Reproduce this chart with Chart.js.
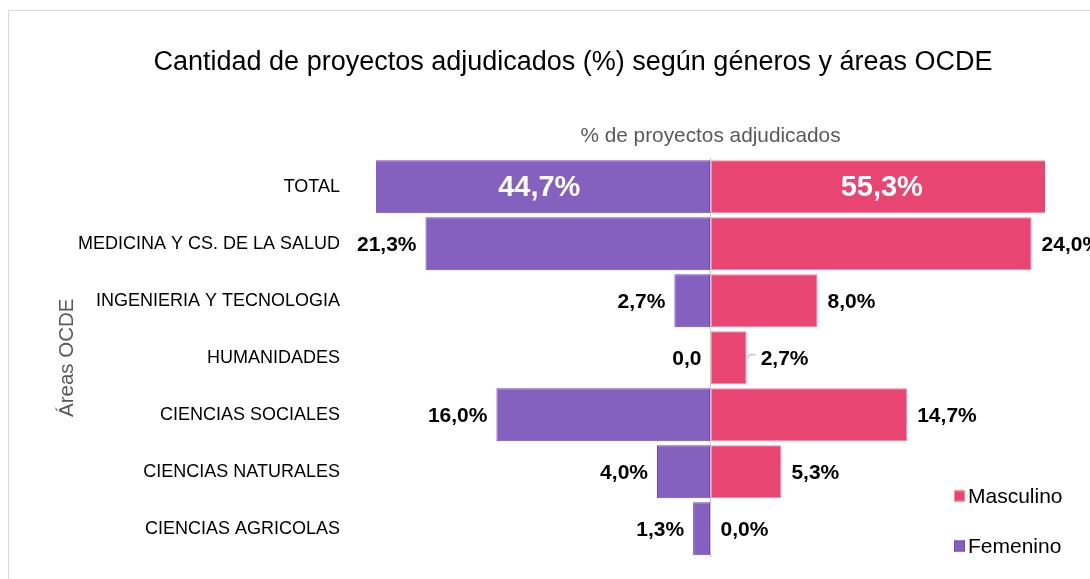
<!DOCTYPE html>
<html>
<head>
<meta charset="utf-8">
<script src="https://cdn.jsdelivr.net/npm/chart.js@4"></script>
<style>
html, body { margin: 0; padding: 0; background: #fff; overflow: hidden; }
#box { position: absolute; left: 8px; top: 10px; width: 1200px; height: 700px; border: 1px solid #d9d9d9; }
#myChart { position: absolute; left: 0; top: 0; }
</style>
</head>
<body>
<div id="box"><canvas id="myChart" width="1128" height="593"></canvas></div>
<script>
// categories (top to bottom)
var areas = ["TOTAL", "MEDICINA Y CS. DE LA SALUD", "INGENIERIA Y TECNOLOGIA", "HUMANIDADES",
             "CIENCIAS SOCIALES", "CIENCIAS NATURALES", "CIENCIAS AGRICOLAS"];
// % of projects per gender
var femenino = [44.7, 21.3, 2.7, 0.0, 16.0, 4.0, 1.3];
var masculino = [55.3, 24.0, 8.0, 2.7, 14.7, 5.3, 0.0];
// label texts as shown on the chart
var femLabels = ["44,7%", "21,3%", "2,7%", "0,0", "16,0%", "4,0%", "1,3%"];
var masLabels = ["55,3%", "24,0%", "8,0%", "2,7%", "14,7%", "5,3%", "0,0%"];
var masLeader = [false, false, false, true, false, false, false];

var FONT = "'Liberation Sans', Arial, sans-serif";
var ctx = document.getElementById("myChart");

// value labels at the bar ends (white and centered inside for the TOTAL row)
var valueLabels = {
    id: 'valueLabels',
    afterDatasetsDraw: function (chart) {
        var c = chart.ctx, area = chart.chartArea, xs = chart.scales.x;
        var texts = [femLabels, masLabels];
        chart.data.datasets.forEach(function (ds, i) {
            var meta = chart.getDatasetMeta(i);
            meta.data.forEach(function (bar, j) {
                var t = texts[i][j];
                var neg = i === 0;
                var x = xs.getPixelForValue(ds.data[j]);
                var base = xs.getPixelForValue(0);
                c.save();
                c.textBaseline = 'middle';
                if (j === 0) {
                    var end = Math.max(area.left, Math.min(area.right, x));
                    var shift = neg ? -4 : 4;
                    c.fillStyle = '#ffffff';
                    c.font = 'bold 29px ' + FONT;
                    c.textAlign = 'center';
                    c.fillText(t, (end + base) / 2 + shift, bar.y + 1);
                } else {
                    c.fillStyle = '#000000';
                    c.font = 'bold 21px ' + FONT;
                    if (neg) {
                        c.textAlign = 'right';
                        c.fillText(t, x - 9, bar.y + 1);
                    } else if (masLeader[j]) {
                        c.strokeStyle = '#a6a6a6';
                        c.lineWidth = 1;
                        c.beginPath();
                        c.moveTo(x + 1, bar.y);
                        c.lineTo(x + 3, bar.y - 3);
                        c.lineTo(x + 9, bar.y - 3);
                        c.stroke();
                        c.textAlign = 'left';
                        c.fillText(t, x + 14, bar.y + 1);
                    } else {
                        c.textAlign = 'left';
                        c.fillText(t, x + 10, bar.y + 1);
                    }
                }
                c.restore();
            });
        });
    }
};

// legend drawn inside the plot, bottom right, Masculino first
var sideLegend = {
    id: 'sideLegend',
    afterDraw: function (chart) {
        var c = chart.ctx;
        var items = chart.data.datasets.slice().reverse();
        items.forEach(function (ds, k) {
            var y = 485 + k * 50;
            c.save();
            c.fillStyle = ds.backgroundColor;
            c.strokeStyle = ds.borderColor;
            c.lineWidth = 1;
            c.fillRect(945, y - 5.5, 11, 11);
            c.strokeRect(945.5, y - 5, 10, 10);
            c.fillStyle = '#000000';
            c.font = '21px ' + FONT;
            c.textAlign = 'left';
            c.textBaseline = 'middle';
            c.fillText(ds.label, 959, y + 1);
            c.restore();
        });
    }
};

var myChart = new Chart(ctx, {
    type: 'bar',
    data: {
        labels: areas,
        datasets: [
            {
                label: "Femenino",
                data: femenino.map(function (v) { return -v; }),
                backgroundColor: "#8461BF",
                borderColor: "#7346B3",
                borderWidth: 1,
                borderSkipped: false,
                clip: 0
            },
            {
                label: "Masculino",
                data: masculino,
                backgroundColor: "#E84572",
                borderColor: "#F08CA8",
                borderWidth: 1,
                borderSkipped: false,
                clip: 0
            }
        ]
    },
    options: {
        indexAxis: 'y',
        responsive: false,
        animation: false,
        layout: { padding: { left: 0, right: 0, top: 0, bottom: 29 } },
        datasets: { bar: { categoryPercentage: 1, barPercentage: 0.93 } },
        plugins: {
            legend: { display: false },
            tooltip: { enabled: false },
            title: {
                display: true,
                text: "Cantidad de proyectos adjudicados (%) según géneros y áreas OCDE",
                color: '#000000',
                font: { family: FONT, size: 27, weight: 'normal' },
                padding: { top: 35, bottom: 10 }
            }
        },
        scales: {
            x: {
                position: 'top',
                stacked: false,
                min: -25,
                max: 25,
                ticks: { display: false, stepSize: 5 },
                grid: {
                    drawTicks: false,
                    lineWidth: 1,
                    color: function (c) { return c.tick && c.tick.value === 0 ? '#c8c8c8' : 'rgba(0,0,0,0)'; }
                },
                border: { display: false },
                title: {
                    display: true,
                    text: "% de proyectos adjudicados",
                    color: '#595959',
                    font: { family: FONT, size: 20.8 },
                    padding: { top: 35, bottom: 10 }
                }
            },
            y: {
                stacked: true,
                grid: { display: false, drawTicks: false },
                border: { display: false },
                ticks: { color: '#000000', padding: 36, font: { family: FONT, size: 18 } },
                title: {
                    display: true,
                    text: "Áreas OCDE",
                    color: '#595959',
                    font: { family: FONT, size: 20.5 },
                    padding: { top: 46, bottom: 0 }
                },
                afterFit: function (s) { s.width = 367; }
            },
            yRight: {
                type: 'category',
                position: 'right',
                labels: [''],
                grid: { display: false, drawTicks: false },
                border: { display: false },
                ticks: { display: false },
                afterFit: function (s) { s.width = 92; }
            }
        }
    },
    plugins: [valueLabels, sideLegend]
});
</script>
</body>
</html>
